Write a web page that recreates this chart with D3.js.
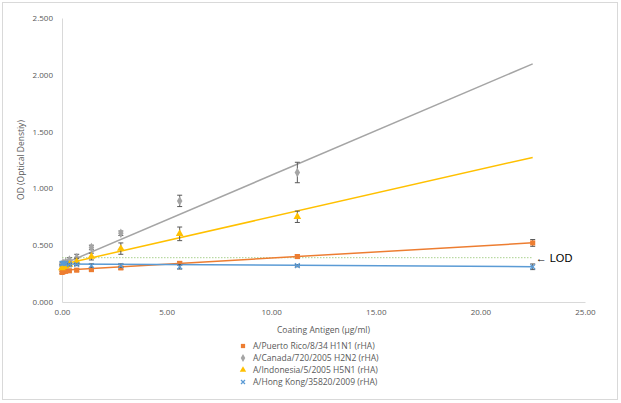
<!DOCTYPE html>
<html lang="en">
<head>
  <meta charset="utf-8" />
  <title>OD vs Coating Antigen</title>
  <script src="https://d3js.org/d3.v7.min.js"></script>
  <style>
body {
  margin: 0;
  background-color: white;
  font-family: 'Open Sans', sans-serif;
}
svg {
  display: block;
}
.tick text {
  fill: #595959;
  font-size: 8px;
}
.label {
  fill: #595959;
  font-size: 8.5px;
}
  </style>
</head>
<body>
  <svg width="621" height="403"></svg>

  <script>
    // coating antigen dilution series (µg/ml)
    var conc = [22.5, 11.25, 5.625, 2.8125, 1.40625, 0.703, 0.352, 0.176, 0.088, 0.044, 0];

    var seriesNames = [
      'A/Puerto Rico/8/34 H1N1 (rHA)',
      'A/Canada/720/2005 H2N2 (rHA)',
      'A/Indonesia/5/2005 H5N1 (rHA)',
      'A/Hong Kong/35820/2009 (rHA)'
    ];
    var seriesColors = ['#ed7d31', '#a5a5a5', '#ffc000', '#5b9bd5'];

    // mean OD per concentration
    var odH1N1 = [0.52, 0.40, 0.34, 0.30, 0.285, 0.28, 0.275, 0.27, 0.27, 0.265, 0.26];
    var odH2N2 = [null, 1.14, 0.89, 0.605, 0.48, 0.39, 0.37, 0.35, 0.34, 0.34, 0.33];
    var odH5N1 = [null, 0.75, 0.60, 0.47, 0.40, 0.355, 0.33, 0.32, 0.31, 0.31, 0.30];
    var odHK = [0.31, 0.32, 0.31, 0.32, 0.32, 0.33, 0.33, 0.34, 0.34, 0.34, 0.34];

    // error bar half widths
    var errH1N1 = [0.03, 0.015, 0.015, 0.012, 0.01, 0.01, 0.01, 0.01, 0.01, 0.01, 0.01];
    var errH2N2 = [null, 0.09, 0.05, 0.02, 0.02, 0.03, 0.02, 0.01, 0.01, 0.01, 0.01];
    var errH5N1 = [null, 0.05, 0.06, 0.05, 0.03, 0.03, 0.02, 0.015, 0.01, 0.01, 0.01];
    var errHK = [0.025, 0.01, 0.02, 0.015, 0.015, 0.01, 0.01, 0.01, 0.01, 0.01, 0.01];

    // linear trendlines: intercept, slope
    var trendIntercept = [0.28, 0.33, 0.33, 0.335];
    var trendSlope = [0.0107, 0.0785, 0.0419, -0.0011];

    var lod = 0.39;

    var xTicks = [0, 5, 10, 15, 20, 25];
    var yTicks = [0, 0.5, 1, 1.5, 2, 2.5];

    var means = [odH1N1, odH2N2, odH5N1, odHK];
    var errs = [errH1N1, errH2N2, errH5N1, errHK];

    var svg = d3.select('svg');

    svg.append('rect')
      .attr('x', 2.5).attr('y', 2.5)
      .attr('width', 615).attr('height', 397)
      .attr('fill', 'white')
      .attr('stroke', '#d9d9d9');

    var pLeft = 62, pRight = 585, pTop = 18, pBottom = 302;

    var x = d3.scaleLinear().domain([0, 25]).range([pLeft, pRight]);
    var y = d3.scaleLinear().domain([0, 2.5]).range([pBottom, pTop]);

    // marker drawing per series
    function marker(sel, s, r) {
      var col = seriesColors[s];
      if (s === 3) {
        sel.append('path')
          .attr('d', `M${-r},${-r}L${r},${r}M${-r},${r}L${r},${-r}`)
          .attr('stroke', col).attr('stroke-width', 1.3).attr('fill', 'none');
      } else {
        var type = [d3.symbolSquare, d3.symbolDiamond, d3.symbolTriangle][s];
        sel.append('path')
          .attr('d', d3.symbol().type(type).size(r * r * 4.5))
          .attr('fill', col);
      }
    }

    // axes
    var xAxis = svg.append('g')
      .attr('transform', `translate(0, ${pBottom})`)
      .call(d3.axisBottom(x).tickValues(xTicks).tickSize(0).tickPadding(7).tickFormat(d3.format('.2f')));
    xAxis.select('.domain').attr('stroke', '#d9d9d9');

    var yAxis = svg.append('g')
      .attr('transform', `translate(${pLeft}, 0)`)
      .call(d3.axisLeft(y).tickValues(yTicks).tickSize(0).tickPadding(9).tickFormat(d3.format('.3f')));
    yAxis.select('.domain').attr('stroke', '#d9d9d9');

    svg.selectAll('.tick text').attr('font-family', "'Open Sans', sans-serif");

    // LOD line
    svg.append('line')
      .attr('x1', x(0)).attr('x2', x(22.5))
      .attr('y1', y(lod)).attr('y2', y(lod))
      .attr('stroke', '#a9d18e')
      .attr('stroke-width', 1)
      .attr('stroke-dasharray', '1.5,1.5');

    svg.append('text')
      .attr('x', x(22.5) + 3)
      .attr('y', y(lod) + 4)
      .attr('font-family', "'Liberation Sans', Arial, sans-serif")
      .attr('font-size', '11px')
      .attr('fill', '#000')
      .text('\u2190 LOD');

    // series
    seriesNames.forEach(function (name, s) {
      var pts = conc.map((c, i) => ({ x: c, v: means[s][i], e: errs[s][i] }))
        .filter(d => d.v != null);
      var g = svg.append('g');
      var col = seriesColors[s];

      // trendline
      g.append('line')
        .attr('x1', x(0)).attr('y1', y(trendIntercept[s]))
        .attr('x2', x(22.5)).attr('y2', y(trendIntercept[s] + trendSlope[s] * 22.5))
        .attr('stroke', col)
        .attr('stroke-width', 1.5);

      // error bars
      var eb = g.selectAll('.err').data(pts).enter().append('g');
      eb.append('line')
        .attr('x1', d => x(d.x)).attr('x2', d => x(d.x))
        .attr('y1', d => y(d.v - d.e)).attr('y2', d => y(d.v + d.e))
        .attr('stroke', '#595959').attr('stroke-width', 1);
      [-1, 1].forEach(function (sign) {
        eb.append('line')
          .attr('x1', d => x(d.x) - 2.5).attr('x2', d => x(d.x) + 2.5)
          .attr('y1', d => y(d.v + sign * d.e)).attr('y2', d => y(d.v + sign * d.e))
          .attr('stroke', '#595959').attr('stroke-width', 1);
      });

      // markers
      g.selectAll('.pt').data(pts).enter().append('g')
        .attr('transform', d => `translate(${x(d.x)}, ${y(d.v)})`)
        .each(function () { marker(d3.select(this), s, 2.4); });
    });

    // axis titles
    svg.append('text')
      .attr('class', 'label')
      .attr('transform', `translate(24, ${(pTop + pBottom) / 2}) rotate(-90)`)
      .attr('text-anchor', 'middle')
      .text('OD (Optical Denstiy)');

    svg.append('text')
      .attr('class', 'label')
      .attr('x', (pLeft + pRight) / 2)
      .attr('y', 333)
      .attr('text-anchor', 'middle')
      .text('Coating Antigen (\u00b5g/ml)');

    // legend
    var legend = svg.append('g');
    seriesNames.forEach(function (name, s) {
      var ly = 346 + s * 12;
      legend.append('g')
        .attr('transform', `translate(243, ${ly})`)
        .call(sel => marker(sel, s, 2));
      legend.append('text')
        .attr('class', 'label')
        .attr('x', 253)
        .attr('y', ly + 3)
        .attr('font-size', '8px')
        .text(name);
    });
  </script>
</body>
</html>
